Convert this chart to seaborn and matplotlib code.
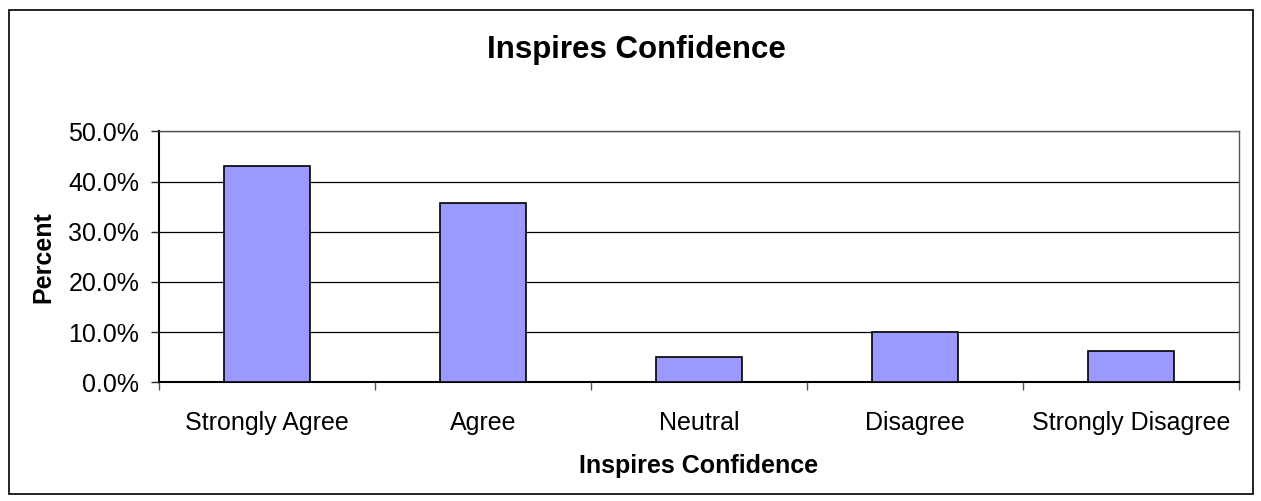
import matplotlib
matplotlib.use("Agg")
import matplotlib.pyplot as plt
import matplotlib.patches as mpatches
from matplotlib.ticker import FuncFormatter, MultipleLocator, FixedLocator
import pandas as pd
import seaborn as sns

categories = ["Strongly Agree", "Agree", "Neutral", "Disagree", "Strongly Disagree"]
percent = [43.1, 35.8, 5.0, 10.0, 6.2]

sns.set_style("white")
plt.rcParams["font.family"] = ["Liberation Sans", "DejaVu Sans"]

df = pd.DataFrame({"category": categories, "percent": percent})

fig = plt.figure(figsize=(12.61, 5.01), dpi=100)
ax = fig.add_axes([158.7 / 1261, 1 - 382.3 / 501, (1239 - 158.7) / 1261, (382.3 - 131.3) / 501])

sns.barplot(data=df, x="category", y="percent", ax=ax, color="#9999FF",
            saturation=1, width=0.4, edgecolor="black", linewidth=1.2, zorder=3)

ax.set_xlim(-0.5, len(categories) - 0.5)
ax.set_ylim(0, 50)
ax.yaxis.set_major_locator(MultipleLocator(10))
ax.yaxis.set_major_formatter(FuncFormatter(lambda v, _: f"{v:.1f}%"))
ax.grid(axis="y", color="black", linewidth=0.9, zorder=0)
ax.set_axisbelow(True)

ax.xaxis.set_minor_locator(FixedLocator([i - 0.5 for i in range(len(categories) + 1)]))
ax.tick_params(axis="x", which="major", length=0, pad=21, labelsize=18, labelcolor="black")
ax.tick_params(axis="x", which="minor", length=6, width=1, color="#555555", direction="out", bottom=True)
ax.tick_params(axis="y", which="major", length=6, width=1, direction="out", left=True,
               labelsize=18, pad=8, labelcolor="black")

for side in ["left", "bottom"]:
    ax.spines[side].set_color("black")
    ax.spines[side].set_linewidth(1.5)
for side in ["top", "right"]:
    ax.spines[side].set_color("#555555")
    ax.spines[side].set_linewidth(1.0)

ax.set_xlabel("Inspires Confidence", fontsize=18, fontweight="bold", labelpad=13, color="black")
ax.set_ylabel("Percent", fontsize=18, fontweight="bold", labelpad=9, color="black")
fig.text(636 / 1261, 1 - 50 / 501, "Inspires Confidence", fontsize=22.5, fontweight="bold",
         ha="center", va="center", color="black")

border = mpatches.Rectangle((9 / 1261, 7 / 501), (1253 - 9) / 1261, (491 - 7) / 501,
                            transform=fig.transFigure, fill=False, edgecolor="black", linewidth=1.2)
fig.patches.append(border)

fig.savefig("out.png", dpi=100)
